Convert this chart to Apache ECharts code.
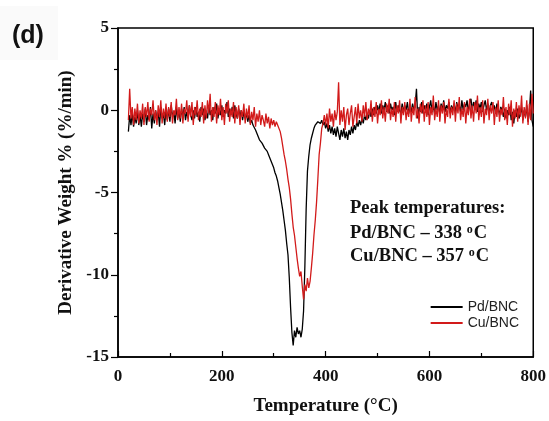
<!DOCTYPE html>
<html>
<head>
<meta charset="utf-8">
<script src="https://cdn.jsdelivr.net/npm/echarts@6/dist/echarts.min.js"></script>
<style>
  html, body { margin: 0; padding: 0; background: #fff; }
  #main { width: 549px; height: 421px; }
</style>
</head>
<body>
<div id="main"></div>
<script>
// temperature grid (°C), 2.5 degree steps
const temps = [
    20, 22.5, 25, 27.5, 30, 32.5, 35, 37.5, 40, 42.5,
    45, 47.5, 50, 52.5, 55, 57.5, 60, 62.5, 65, 67.5,
    70, 72.5, 75, 77.5, 80, 82.5, 85, 87.5, 90, 92.5,
    95, 97.5, 100, 102.5, 105, 107.5, 110, 112.5, 115, 117.5,
    120, 122.5, 125, 127.5, 130, 132.5, 135, 137.5, 140, 142.5,
    145, 147.5, 150, 152.5, 155, 157.5, 160, 162.5, 165, 167.5,
    170, 172.5, 175, 177.5, 180, 182.5, 185, 187.5, 190, 192.5,
    195, 197.5, 200, 202.5, 205, 207.5, 210, 212.5, 215, 217.5,
    220, 222.5, 225, 227.5, 230, 232.5, 235, 237.5, 240, 242.5,
    245, 247.5, 250, 252.5, 255, 257.5, 260, 262.5, 265, 267.5,
    270, 272.5, 275, 277.5, 280, 282.5, 285, 287.5, 290, 292.5,
    295, 297.5, 300, 302.5, 305, 307.5, 310, 312.5, 315, 317.5,
    320, 322.5, 325, 327.5, 330, 332.5, 335, 337.5, 340, 342.5,
    345, 347.5, 350, 352.5, 355, 357.5, 360, 362.5, 365, 367.5,
    370, 372.5, 375, 377.5, 380, 382.5, 385, 387.5, 390, 392.5,
    395, 397.5, 400, 402.5, 405, 407.5, 410, 412.5, 415, 417.5,
    420, 422.5, 425, 427.5, 430, 432.5, 435, 437.5, 440, 442.5,
    445, 447.5, 450, 452.5, 455, 457.5, 460, 462.5, 465, 467.5,
    470, 472.5, 475, 477.5, 480, 482.5, 485, 487.5, 490, 492.5,
    495, 497.5, 500, 502.5, 505, 507.5, 510, 512.5, 515, 517.5,
    520, 522.5, 525, 527.5, 530, 532.5, 535, 537.5, 540, 542.5,
    545, 547.5, 550, 552.5, 555, 557.5, 560, 562.5, 565, 567.5,
    570, 572.5, 575, 577.5, 580, 582.5, 585, 587.5, 590, 592.5,
    595, 597.5, 600, 602.5, 605, 607.5, 610, 612.5, 615, 617.5,
    620, 622.5, 625, 627.5, 630, 632.5, 635, 637.5, 640, 642.5,
    645, 647.5, 650, 652.5, 655, 657.5, 660, 662.5, 665, 667.5,
    670, 672.5, 675, 677.5, 680, 682.5, 685, 687.5, 690, 692.5,
    695, 697.5, 700, 702.5, 705, 707.5, 710, 712.5, 715, 717.5,
    720, 722.5, 725, 727.5, 730, 732.5, 735, 737.5, 740, 742.5,
    745, 747.5, 750, 752.5, 755, 757.5, 760, 762.5, 765, 767.5,
    770, 772.5, 775, 777.5, 780, 782.5, 785, 787.5, 790, 792.5,
    795, 797.5, 800
];

// Pd/BNC derivative weight (%/min)
const pdBNC = [
    -1.3, -0.3, -0.9, -0.2, -1.0, -0.4, -0.8, 0.0, -0.9, -0.3,
    -1.0, -0.2, -0.7, 0.1, -0.9, -0.3, -0.6, 0.2, -1.1, -0.2,
    -0.8, 0.0, -0.6, -0.1, -1.0, 0.2, -0.5, -0.2, -0.9, 0.1,
    -0.6, 0.1, -0.7, 0.3, -0.4, -0.1, -0.8, 0.2, -0.5, 0.0,
    -0.7, 0.1, -0.4, 0.2, -0.6, -0.1, -0.5, 0.3, -0.3, -0.6,
    0.0, -0.5, 0.2, -0.4, -0.1, -0.7, 0.2, -0.3, 0.1, -0.6,
    -0.1, -0.5, 0.3, -0.3, 0.0, -0.6, 0.2, -0.2, 0.4, -0.5,
    0.1, -0.3, 0.3, -0.4, 0.0, -0.2, 0.5, -0.4, 0.1, -0.3,
    0.2, -0.5, 0.3, -0.2, -0.5, 0.1, -0.4, 0.0, -0.6, -0.1,
    -0.5, -0.2, -0.7, -0.3, -0.8, -0.6, -0.9, -1.0, -1.2, -1.4,
    -1.5, -1.8, -1.7, -2.0, -2.1, -2.3, -2.4, -2.5, -2.7, -2.9,
    -3.0, -3.3, -3.5, -3.8, -4.0, -4.3, -4.7, -5.1, -5.6, -6.1,
    -6.7, -7.3, -8.1, -8.8, -10.2, -12.0, -13.5, -14.3, -13.4, -13.8,
    -13.2, -13.6, -13.4, -13.8, -13.3, -12.2, -9.5, -6.0, -3.7, -2.8,
    -2.1, -1.7, -1.4, -1.1, -0.9, -0.8, -0.7, -0.6, -0.8, -0.6,
    -0.9, -0.7, -1.1, -0.8, -1.3, -0.9, -1.4, -1.0, -1.5, -1.1,
    -1.6, -1.0, -1.4, -1.8, -1.2, -1.6, -1.1, -1.7, -1.3, -1.8,
    -1.2, -1.5, -1.0, -1.4, -0.9, -1.2, -0.7, -1.0, -0.6, -0.9,
    -0.5, -0.8, -0.3, -0.6, -0.2, -0.5, 0.0, -0.4, 0.1, -0.3,
    0.2, -0.2, 0.3, -0.1, 0.4, -0.2, 0.3, 0.0, 0.5, -0.1,
    0.3, -0.2, 0.4, 0.0, 0.2, -0.3, 0.5, -0.1, 0.3, 0.0,
    -0.2, 0.4, -0.1, 0.3, 0.0, 0.5, -0.2, 0.2, -0.1, 0.4,
    0.0, 0.3, 1.3, -0.5, 0.2, -0.1, 0.5, -0.2, 0.3, 0.0,
    0.4, -0.3, 0.2, 0.6, -0.1, 0.3, -0.2, 0.5, 0.0, 0.3,
    -0.2, 0.4, 0.0, 0.6, -0.1, 0.3, 0.1, 0.5, -0.2, 0.3,
    0.0, 0.4, -0.2, 0.5, 0.1, 0.3, -0.1, 0.6, 0.0, 0.4,
    0.2, 0.6, -0.1, 0.4, 0.7, 0.0, 0.5, 0.2, 0.6, -0.1,
    0.4, 0.1, 0.5, -0.1, 0.3, 0.6, 0.0, 0.4, -0.2, 0.3,
    0.5, 0.0, 0.3, -0.2, 0.4, 0.1, -0.3, 0.2, 0.0, -0.4,
    0.1, -0.5, 0.0, -0.3, 0.2, -0.6, -0.1, -0.8, 0.0, -0.4,
    0.1, -0.5, -0.2, 0.2, -0.6, 0.0, -0.4, 0.3, -0.7, -0.1,
    1.2, -0.6, -1.0
];

// Cu/BNC derivative weight (%/min)
const cuBNC = [
    -0.6, 1.3, -0.5, 0.2, -0.9, 0.1, -0.6, 0.4, -0.8, 0.0,
    -0.5, 0.4, -0.9, 0.2, -0.4, 0.5, -0.7, 0.1, -0.3, 0.6,
    -0.6, 0.0, -0.9, 0.3, -0.4, 0.6, -0.8, 0.1, -0.5, 0.4,
    -0.7, 0.2, -0.4, 0.5, -0.8, 0.0, -0.3, 0.7, -0.6, 0.2,
    -0.5, 0.4, -0.8, 0.1, -0.2, 0.6, -0.7, 0.3, -0.4, 0.5,
    -0.9, 0.2, -0.3, 0.6, -0.6, 0.1, -0.4, 0.5, -0.8, 0.3,
    -0.5, 0.6, -0.2, 1.0, -0.7, 0.2, -0.4, 0.5, -0.8, 0.3,
    -0.3, 0.7, -0.6, 0.2, -0.9, 0.4, -0.2, 0.6, -0.7, 0.1,
    -0.4, 0.5, -0.8, 0.2, -0.5, 0.3, -0.9, 0.0, -0.4, 0.4,
    -0.8, 0.1, -0.5, 0.3, -0.9, -0.1, -0.6, 0.2, -1.0, -0.2,
    -0.7, 0.0, -0.9, -0.3, -0.6, -1.0, -0.2, -0.8, -0.4, -1.1,
    -0.5, -0.9, -0.6, -1.0, -0.7, -0.9, -0.8, -1.3, -1.7, -2.2,
    -2.7, -3.1, -3.6, -4.2, -4.7, -5.4, -6.3, -7.1, -7.6, -8.3,
    -9.0, -9.6, -10.1, -9.8, -10.7, -11.5, -10.6, -11.0, -10.2, -10.8,
    -10.4, -9.6, -8.7, -7.6, -6.7, -5.6, -4.2, -2.7, -2.0, -1.1,
    -0.8, -0.3, -0.9, -0.2, -1.1, 0.1, -0.7, -0.2, -1.0, 0.0,
    -0.6, -0.1, 1.7, -0.9, 0.0, -0.7, 0.2, -1.2, -0.3, 0.1,
    -0.9, -0.2, 0.3, -1.0, -0.4, 0.2, -0.8, 0.4, -0.5, 0.0,
    -0.7, 0.3, -0.4, 0.5, -0.6, 0.1, -0.3, 0.6, -0.7, 0.2,
    -0.4, 0.5, -0.8, 0.1, -0.3, 0.6, -0.5, 0.2, -0.7, 0.4,
    -0.2, 0.7, -0.6, 0.1, -0.4, 0.5, -0.7, 0.3, -0.2, 0.6,
    -0.8, 0.2, -0.3, 0.5, -0.6, 0.1, -0.4, 0.7, -0.7, 0.2,
    -0.3, 0.8, -0.5, 0.1, -0.8, 0.4, -0.2, 0.6, -0.7, 0.3,
    -0.4, 0.5, -0.9, 0.2, -0.3, 0.9, -0.6, 0.1, -0.4, 0.6,
    -0.7, 0.3, -0.2, 0.5, -0.8, 0.1, -0.4, 0.7, -0.5, 0.2,
    -0.3, 0.6, -0.7, 0.4, -0.2, 0.8, -0.6, 0.1, -0.4, 0.5,
    -0.8, 0.2, -0.3, 0.7, -0.5, 0.3, -0.7, 0.5, -0.2, 0.9,
    -0.6, 0.2, -0.4, 0.6, -0.8, 0.1, -0.3, 0.7, -0.6, 0.3,
    -0.2, 0.5, -0.9, 0.2, -0.4, 0.6, -0.7, 0.1, -0.3, 0.8,
    -0.6, 0.2, -0.9, 0.4, -0.3, 0.6, -1.0, 0.1, -0.5, 0.5,
    -0.7, 0.3, -0.4, 0.9, -0.8, 0.2, -0.5, 0.6, -0.9, 0.4,
    -0.6, 1.0, -0.2
];

const seriesNames = ['Pd/BNC', 'Cu/BNC'];
const peakLines = [
    ['Peak temperatures:', ''],
    ['Pd/BNC \u2013 338 ', 'C'],
    ['Cu/BNC \u2013 357 ', 'C']
];

var chartDom = document.getElementById('main');
var myChart = echarts.init(chartDom, null, { renderer: 'canvas' });

const serif = '"Liberation Serif", "Times New Roman", serif';

function pairs(ys) {
    return temps.map((t, i) => [t, ys[i]]);
}

// peak annotation text with superscript o
let peakText = peakLines.map((ln, i) => {
    let txt = ln[1] ? `{b|${ln[0]}}{s|o}{b|${ln[1]}}` : `{b|${ln[0]}}`;
    return {
        type: 'text',
        left: 350,
        top: 199 + i * 23.5,
        style: {
            text: txt,
            rich: {
                b: { fontFamily: serif, fontWeight: 'bold', fontSize: 18.5, lineHeight: 21, fill: '#111' },
                s: { fontFamily: serif, fontWeight: 'bold', fontSize: 12, lineHeight: 21, verticalAlign: 'top', padding: [1, 1, 0, 0], fill: '#111' }
            }
        }
    };
});

var option = {
    animation: false,
    backgroundColor: '#fff',
    grid: {
        left: 118, right: 14, top: 28, bottom: 59,
        show: true, borderColor: '#000', borderWidth: 1.5
    },
    legend: {
        orient: 'vertical',
        right: 25,
        top: 295,
        icon: 'rect',
        itemWidth: 32,
        itemHeight: 2,
        itemGap: 2,
        data: seriesNames,
        textStyle: { fontFamily: '"Liberation Sans", Arial, sans-serif', fontSize: 14, lineHeight: 14, color: '#222' }
    },
    xAxis: {
        type: 'value',
        min: 0, max: 800, interval: 200,
        name: 'Temperature (\u00B0C)',
        nameLocation: 'middle',
        nameGap: 40,
        nameTextStyle: { fontFamily: serif, fontWeight: 'bold', fontSize: 19, color: '#111' },
        axisLine: { onZero: false, lineStyle: { color: '#000', width: 1.5 } },
        axisTick: { inside: true, length: 6, lineStyle: { color: '#000', width: 1.2 } },
        minorTick: { show: true, splitNumber: 2, length: 4, lineStyle: { color: '#000', width: 1.2 } },
        splitLine: { show: false },
        axisLabel: { fontFamily: serif, fontWeight: 'bold', fontSize: 17, color: '#111', margin: 11 }
    },
    yAxis: {
        type: 'value',
        min: -15, max: 5, interval: 5,
        name: 'Derivative Weight % (%/min)',
        nameLocation: 'middle',
        nameGap: 37,
        nameTextStyle: { fontFamily: serif, fontWeight: 'bold', fontSize: 19, color: '#111' },
        axisLine: { onZero: false, lineStyle: { color: '#000', width: 1.5 } },
        axisTick: { inside: false, length: 7, lineStyle: { color: '#000', width: 1.2 } },
        minorTick: { show: true, splitNumber: 2, length: 4, lineStyle: { color: '#000', width: 1.2 } },
        splitLine: { show: false },
        axisLabel: { fontFamily: serif, fontWeight: 'bold', fontSize: 17, color: '#111', margin: 9 }
    },
    graphic: [
        { type: 'rect', left: 0, top: 6, shape: { width: 58, height: 54 }, style: { fill: '#fafafa' } },
        {
            type: 'text', left: 12, top: 24,
            style: { text: '(d)', fontFamily: '"Liberation Sans", Arial, sans-serif', fontWeight: 'bold', fontSize: 25, fill: '#111' }
        }
    ].concat(peakText),
    series: [
        {
            name: seriesNames[0],
            type: 'line',
            data: pairs(pdBNC),
            symbol: 'none',
            color: '#000',
            lineStyle: { color: '#000', width: 1.3 }
        },
        {
            name: seriesNames[1],
            type: 'line',
            data: pairs(cuBNC),
            symbol: 'none',
            color: '#d21a1a',
            lineStyle: { color: '#d21a1a', width: 1.3 }
        }
    ]
};

option && myChart.setOption(option);
</script>
</body>
</html>
